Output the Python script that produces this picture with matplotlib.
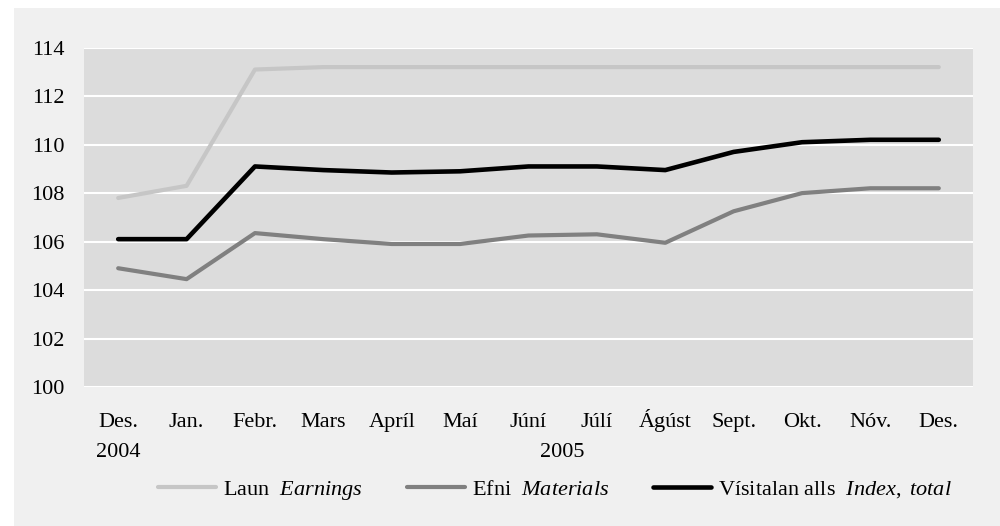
import matplotlib.pyplot as plt
from matplotlib.patches import Rectangle
from matplotlib.transforms import blended_transform_factory

plt.rcParams['font.family'] = ['Liberation Serif', 'DejaVu Serif']
plt.rcParams['mathtext.fontset'] = 'custom'
plt.rcParams['mathtext.rm'] = 'Liberation Serif'
plt.rcParams['mathtext.it'] = 'Liberation Serif:italic'

months = ['Des.', 'Jan.', 'Febr.', 'Mars', 'Apríl', 'Maí', 'Júní', 'Júlí',
          'Ágúst', 'Sept.', 'Okt.', 'Nóv.', 'Des.']
earnings = [107.8, 108.3, 113.1, 113.2, 113.2, 113.2, 113.2, 113.2, 113.2,
            113.2, 113.2, 113.2, 113.2]
materials = [104.9, 104.45, 106.35, 106.1, 105.9, 105.9, 106.25, 106.3, 105.95,
             107.25, 108.0, 108.2, 108.2]
index_total = [106.1, 106.1, 109.1, 108.95, 108.85, 108.9, 109.1, 109.1, 108.95,
               109.7, 110.1, 110.2, 110.2]
years = ['2004', '2005']
yticks = [100, 102, 104, 106, 108, 110, 112, 114]

fs = 16

fig = plt.figure(figsize=(10, 5.26), dpi=100, facecolor='white')
fig.patches.append(Rectangle((0.014, 0), 0.986, 1 - 8 / 526, transform=fig.transFigure,
                             facecolor='#f0f0f0', edgecolor='none', zorder=-10))

ax = fig.add_axes([0.084, 0.2643, 0.889, 0.645])
ax.set_facecolor('#dcdcdc')
x = list(range(len(months)))

ax.plot(x, earnings, color='#c6c6c6', lw=3, solid_capstyle='round',
        label=r'Laun  $\it{Earnings}$')
ax.plot(x, materials, color='#808080', lw=3, solid_capstyle='round',
        label=r'Efni  $\it{Materials}$')
ax.plot(x, index_total, color='black', lw=3.3, solid_capstyle='round',
        label=r'Vísitalan alls  $\it{Index,\ total}$')

ax.set_xlim(-0.5, len(months) - 0.5)
ax.set_ylim(100, 114)
ax.set_yticks(yticks)
ax.set_xticks(x)
ax.set_xticklabels(months, va='baseline')
ax.grid(axis='y', color='white', lw=1.5, zorder=0)
ax.set_axisbelow(True)
for s in ax.spines.values():
    s.set_visible(False)
ax.tick_params(axis='both', length=0, labelsize=fs)
ax.tick_params(axis='y', pad=14)
ax.tick_params(axis='x', pad=29)

trans = blended_transform_factory(ax.transData, ax.transAxes)
ax.text(0, -0.2065, years[0], transform=trans, ha='center', va='baseline', fontsize=fs)
ax.text(6.5, -0.2065, years[1], transform=trans, ha='center', va='baseline', fontsize=fs)

fig.legend(loc='center', bbox_to_anchor=(0.555, 0.068), ncol=3, frameon=False,
           fontsize=fs, handlelength=2.6, handletextpad=0.3, columnspacing=2.0)

fig.savefig('out.png', dpi=100, facecolor=fig.get_facecolor())
